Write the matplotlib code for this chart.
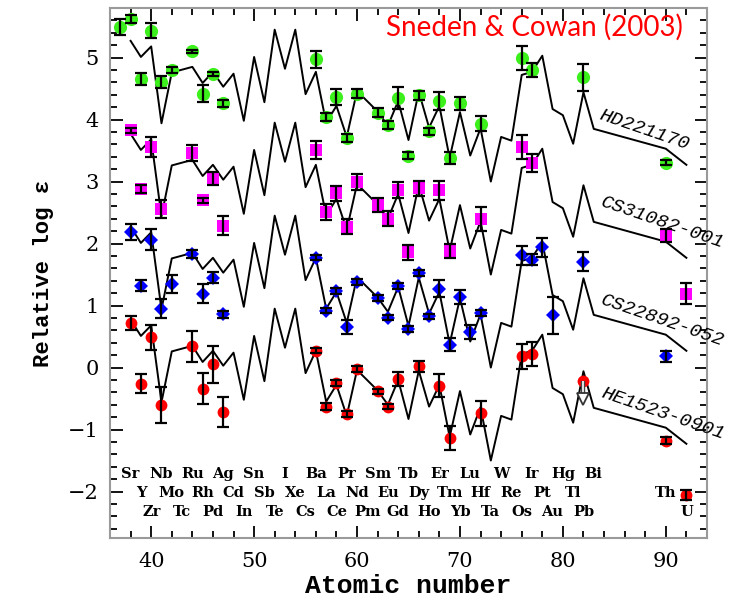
import matplotlib
matplotlib.use('Agg')
import matplotlib.pyplot as plt
from matplotlib.ticker import MultipleLocator

# Scaled solar-system r-process curve (normalised to HD221170)
curve_z = [38, 39, 40, 41, 42, 44, 45, 46, 47, 48, 49, 50, 51, 52, 53, 54, 55, 56, 57, 58,
           59, 60, 62, 63, 64, 65, 66, 67, 68, 69, 70, 71, 72, 73, 74, 75, 76, 77, 78, 79,
           80, 81, 82, 83, 90, 92]
curve_v = [5.27, 5.01, 5.18, 3.94, 4.76, 4.85, 4.59, 4.77, 4.53, 4.74, 3.98, 5.01, 4.28, 5.45,
           4.82, 5.45, 4.41, 4.77, 3.95, 4.22, 3.72, 4.46, 4.13, 3.90, 4.30, 3.67, 4.45, 3.87,
           4.22, 3.38, 4.12, 3.42, 3.86, 3.00, 3.72, 3.66, 4.72, 4.77, 5.03, 4.17, 4.07, 3.61,
           4.44, 3.85, 3.53, 3.27]
curve_offsets = [0.0, -1.5, -3.0, -4.5]

star_names = ['HD221170', 'CS31082-001', 'CS22892-052', 'HE1523-0901']

hd_z = [37, 38, 39, 40, 41, 42, 44, 45, 46, 47, 56, 57, 58, 59, 60, 62, 63, 64, 65, 66,
        67, 68, 69, 70, 72, 76, 77, 82, 90]
hd_v = [5.50, 5.62, 4.65, 5.43, 4.61, 4.80, 5.10, 4.42, 4.74, 4.26, 4.97, 4.04, 4.36, 3.70,
        4.42, 4.11, 3.91, 4.35, 3.42, 4.39, 3.81, 4.30, 3.38, 4.26, 3.93, 4.99, 4.80, 4.68, 3.30]
hd_e = [0.13, 0.06, 0.10, 0.12, 0.10, 0.05, 0.03, 0.14, 0.03, 0.05, 0.14, 0.06, 0.13, 0.06,
        0.08, 0.07, 0.06, 0.18, 0.05, 0.07, 0.06, 0.15, 0.10, 0.11, 0.12, 0.19, 0.11, 0.22, 0.04]

cs31_z = [38, 39, 40, 41, 44, 45, 46, 47, 56, 57, 58, 59, 60, 62, 63, 64, 65, 66, 68, 69,
          72, 76, 77, 90, 92]
cs31_v = [3.83, 2.88, 3.56, 2.56, 3.46, 2.70, 3.05, 2.29, 3.51, 2.51, 2.81, 2.27, 2.99, 2.62,
          2.40, 2.86, 1.86, 2.89, 2.86, 1.88, 2.40, 3.56, 3.30, 2.13, 1.19]
cs31_e = [0.04, 0.06, 0.16, 0.15, 0.13, 0.04, 0.10, 0.16, 0.15, 0.13, 0.12, 0.12, 0.13, 0.11,
          0.12, 0.13, 0.12, 0.12, 0.15, 0.12, 0.19, 0.19, 0.15, 0.10, 0.17]

cs22_z = [38, 39, 40, 41, 42, 44, 45, 46, 47, 56, 57, 58, 59, 60, 62, 63, 64, 65, 66, 67,
          68, 69, 70, 71, 72, 76, 77, 78, 79, 82, 90]
cs22_v = [2.19, 1.32, 2.06, 0.95, 1.35, 1.83, 1.19, 1.45, 0.86, 1.77, 0.92, 1.24, 0.65, 1.38,
          1.12, 0.80, 1.32, 0.62, 1.52, 0.83, 1.27, 0.37, 1.14, 0.57, 0.88, 1.81, 1.74, 1.94,
          0.84, 1.71, 0.18]
cs22_e = [0.13, 0.09, 0.17, 0.15, 0.15, 0.06, 0.15, 0.09, 0.06, 0.04, 0.04, 0.05, 0.11, 0.05,
          0.05, 0.04, 0.05, 0.05, 0.05, 0.04, 0.14, 0.11, 0.11, 0.11, 0.05, 0.15, 0.09, 0.15,
          0.30, 0.15, 0.09]

he_z = [38, 39, 40, 41, 44, 45, 46, 47, 56, 57, 58, 59, 60, 62, 63, 64, 66, 68, 69, 72,
        76, 77, 90, 92]
he_v = [0.72, -0.26, 0.49, -0.61, 0.34, -0.34, 0.05, -0.72, 0.27, -0.63, -0.25, -0.75, -0.02,
        -0.38, -0.63, -0.18, 0.02, -0.29, -1.14, -0.74, 0.18, 0.22, -1.18, -2.05]
he_e = [0.11, 0.15, 0.20, 0.29, 0.25, 0.25, 0.30, 0.24, 0.04, 0.05, 0.05, 0.05, 0.05, 0.04,
        0.04, 0.11, 0.09, 0.18, 0.19, 0.20, 0.20, 0.20, 0.06, 0.08]
he_lim_z = [82]
he_lim_v = [-0.21]
he_lim_len = [0.30]

elem_row1 = [('Sr', 38), ('Nb', 41), ('Ru', 44), ('Ag', 47), ('Sn', 50), ('I', 53), ('Ba', 56),
             ('Pr', 59), ('Sm', 62), ('Tb', 65), ('Er', 68), ('Lu', 71), ('W', 74), ('Ir', 77),
             ('Hg', 80), ('Bi', 83)]
elem_row2 = [('Y', 39), ('Mo', 42), ('Rh', 45), ('Cd', 48), ('Sb', 51), ('Xe', 54), ('La', 57),
             ('Nd', 60), ('Eu', 63), ('Dy', 66), ('Tm', 69), ('Hf', 72), ('Re', 75), ('Pt', 78),
             ('Tl', 81), ('Th', 90)]
elem_row3 = [('Zr', 40), ('Tc', 43), ('Pd', 46), ('In', 49), ('Te', 52), ('Cs', 55), ('Ce', 58),
             ('Pm', 61), ('Gd', 64), ('Ho', 67), ('Yb', 70), ('Ta', 73), ('Os', 76), ('Au', 79),
             ('Pb', 82), ('U', 92)]
elem_row_y = [-1.71, -2.02, -2.33]

label_pos = [(87.9, 3.83), (89.7, 2.33), (89.7, 0.75), (89.7, -0.74)]

fig = plt.figure(figsize=(7.32, 6.0), dpi=100)
ax = fig.add_axes([0.1503, 0.1033, 0.8155, 0.8834])

# curves
for off in curve_offsets:
    ax.plot(curve_z, [v + off for v in curve_v], color='black', lw=1.4, zorder=2)

stars = [
    (hd_z, hd_v, hd_e, 'o', '#3cf01c', 9.5),
    (cs31_z, cs31_v, cs31_e, 's', '#ff00ff', 8.5),
    (cs22_z, cs22_v, cs22_e, 'D', '#0000ff', 7),
    (he_z, he_v, he_e, 'o', '#ff0000', 8.5),
]
for z, v, e, m, c, ms in stars:
    ax.plot(z, v, ls='none', marker=m, color=c, markersize=ms, markeredgewidth=0, zorder=3)
    ax.errorbar(z, v, yerr=e, fmt='none', ecolor='black', elinewidth=1.6,
                capsize=4.5, capthick=1.6, zorder=4)

# upper-limit point (HE1523-0901, Pb)
ax.plot(he_lim_z, he_lim_v, ls='none', marker='o', color='#ff0000', markersize=8.5,
        markeredgewidth=0, zorder=3)
ax.errorbar(he_lim_z, he_lim_v, yerr=[he_lim_len, [0]], fmt='none', ecolor='#444444',
            elinewidth=3.2, capsize=0, zorder=4)
ax.errorbar(he_lim_z, he_lim_v, yerr=[he_lim_len, [0]], fmt='none', ecolor='white',
            elinewidth=1.2, capsize=0, zorder=4.5)
ax.plot(he_lim_z, [v - d for v, d in zip(he_lim_v, he_lim_len)], ls='none', marker='v',
        markersize=8, markerfacecolor='white', markeredgecolor='#333333',
        markeredgewidth=1.3, zorder=5)

for name, (lx, ly) in zip(star_names, label_pos):
    ax.text(lx, ly, name, rotation=-19, rotation_mode='anchor', ha='center', va='center',
            family='Liberation Mono', style='italic', fontsize=14, clip_on=False, zorder=5)

for row, ry in zip([elem_row1, elem_row2, elem_row3], elem_row_y):
    for sym, zz in row:
        ax.text(zz, ry, sym, ha='center', va='center', family='DejaVu Serif',
                fontweight='bold', fontsize=10.5)

ax.text(0.96, 0.963, 'Sneden & Cowan (2003)', transform=ax.transAxes, ha='right', va='center',
        color='red', family='Lato', fontsize=20)

ax.set_xlim(36, 94)
ax.set_ylim(-2.75, 5.8)
ax.xaxis.set_major_locator(MultipleLocator(10))
ax.xaxis.set_minor_locator(MultipleLocator(2))
ax.yaxis.set_major_locator(MultipleLocator(1))
ax.yaxis.set_minor_locator(MultipleLocator(0.2))
ax.tick_params(which='both', direction='in', top=True, right=True, colors='black',
               labelsize=15, width=1.3)
ax.tick_params(which='major', length=9)
ax.tick_params(which='minor', length=5)
ax.tick_params(axis='x', pad=10)
ax.tick_params(axis='y', pad=8)
ax.set_yticks([-2, -1, 0, 1, 2, 3, 4, 5])
ax.set_yticklabels(['\u22122', '\u22121', '0', '1', '2', '3', '4', '5'])
for lab in ax.get_xticklabels() + ax.get_yticklabels():
    lab.set_family('DejaVu Serif')
for s in ax.spines.values():
    s.set_color('#9a9a9a')
    s.set_linewidth(1.5)

ax.set_xlabel('Atomic number', family='Liberation Mono', fontweight='bold', fontsize=19,
              labelpad=2)
ax.set_ylabel('Relative log \u03b5', family='Liberation Mono', fontweight='bold', fontsize=16,
              labelpad=10)

fig.savefig('out.png', dpi=100)
